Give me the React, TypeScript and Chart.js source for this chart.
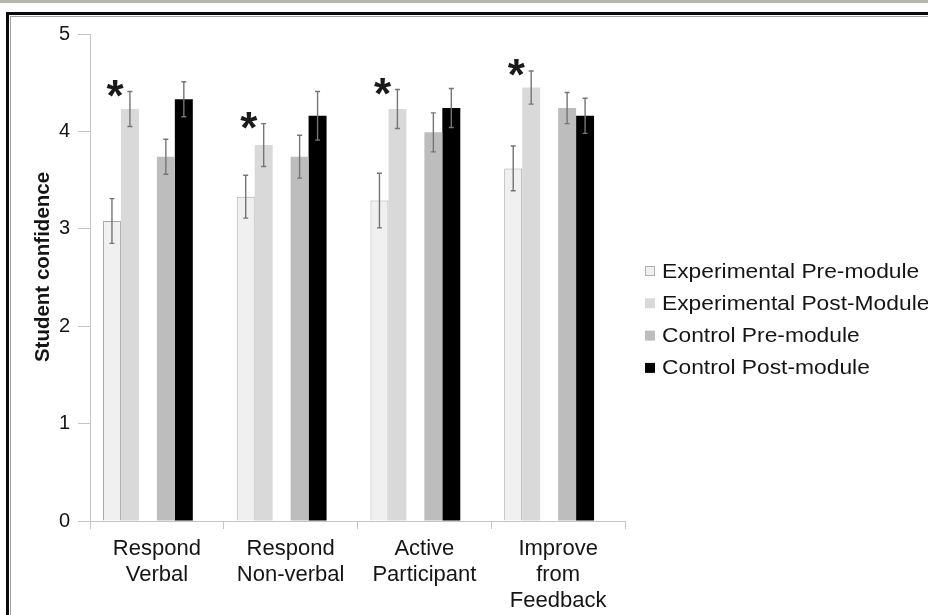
import React, { useEffect, useRef } from "react";
import { Chart, registerables } from "chart.js";

Chart.register(...registerables);

const categories = [
  ["Respond", "Verbal"],
  ["Respond", "Non-verbal"],
  ["Active", "Participant"],
  ["Improve", "from", "Feedback"],
];

const seriesLabels = [
  "Experimental Pre-module",
  "Experimental Post-Module",
  "Control Pre-module",
  "Control Post-module",
];

const yTitle = "Student confidence";

const expPre = [3.08, 3.33, 3.29, 3.62];
const expPreErr = [0.23, 0.22, 0.28, 0.23];
const expPost = [4.23, 3.86, 4.23, 4.45];
const expPostErr = [0.18, 0.22, 0.2, 0.17];
const ctrlPre = [3.74, 3.74, 3.99, 4.24];
const ctrlPreErr = [0.18, 0.22, 0.2, 0.16];
const ctrlPost = [4.33, 4.16, 4.24, 4.16];
const ctrlPostErr = [0.18, 0.25, 0.2, 0.18];
const significant = [true, true, true, true];

const yTicks = [0, 1, 2, 3, 4, 5];

const FONT = "'Liberation Sans', Arial, Helvetica, sans-serif";

const errorBarPlugin = {
  id: "errorBars",
  afterDatasetsDraw(chart: any) {
    const { ctx } = chart;
    const yScale = chart.scales.y;
    chart.data.datasets.forEach((ds: any, di: number) => {
      if (!ds.errors) return;
      const meta = chart.getDatasetMeta(di);
      meta.data.forEach((bar: any, i: number) => {
        const v = ds.data[i];
        const e = ds.errors[i];
        if (v == null || e == null) return;
        const x = bar.x;
        const yT = yScale.getPixelForValue(v + e);
        const yB = yScale.getPixelForValue(v - e);
        ctx.save();
        ctx.strokeStyle = "#757575";
        ctx.lineWidth = 1.4;
        ctx.beginPath();
        ctx.moveTo(x, yT);
        ctx.lineTo(x, yB);
        ctx.moveTo(x - 2.5, yT);
        ctx.lineTo(x + 2.5, yT);
        ctx.moveTo(x - 2.5, yB);
        ctx.lineTo(x + 2.5, yB);
        ctx.stroke();
        ctx.restore();
        if (ds.markSig && significant[i]) {
          ctx.save();
          ctx.fillStyle = "#1a1a1a";
          ctx.font = `bold 44px ${FONT}`;
          ctx.textAlign = "center";
          ctx.textBaseline = "middle";
          const w = bar.width;
          ctx.fillText("*", x - w / 2 - 6, yT - 3 + 10);
          ctx.restore();
        }
      });
    });
  },
};

const sidePlugin = {
  id: "sideLegend",
  afterDraw(chart: any) {
    const { ctx, chartArea } = chart;
    const items = chart.data.datasets.filter((d: any) => d.label);
    ctx.save();
    items.forEach((ds: any, i: number) => {
      const cy = chartArea.top + 237 + i * 32.3;
      const bx = chartArea.right + 20;
      ctx.fillStyle = ds.backgroundColor;
      ctx.fillRect(bx, cy - 5, 10, 10);
      if (ds.legendBorder) {
        ctx.strokeStyle = ds.legendBorder;
        ctx.lineWidth = 1;
        ctx.strokeRect(bx + 0.5, cy - 4.5, 9, 9);
      }
      ctx.fillStyle = "#151515";
      ctx.font = `20px ${FONT}`;
      ctx.textAlign = "left";
      ctx.textBaseline = "middle";
      ctx.save();
      ctx.translate(bx + 17, cy + 1);
      ctx.scale(1.14, 1);
      ctx.fillText(ds.label, 0, 0);
      ctx.restore();
    });
    // y axis title
    ctx.save();
    ctx.fillStyle = "#151515";
    ctx.font = `bold 20.5px ${FONT}`;
    ctx.textAlign = "center";
    ctx.textBaseline = "middle";
    ctx.translate(43, 267);
    ctx.rotate(-Math.PI / 2);
    ctx.fillText(yTitle, 0, 0);
    ctx.restore();
    ctx.restore();
  },
};

export default function App() {
  const ref = useRef<HTMLCanvasElement | null>(null);

  useEffect(() => {
    if (!ref.current) return;
    const chart = new Chart(ref.current, {
      type: "bar",
      data: {
        labels: categories,
        datasets: [
          {
            label: seriesLabels[0],
            data: expPre,
            errors: expPreErr,
            backgroundColor: "#f0f0f0",
            borderColor: "#a8a8a8",
            borderWidth: 1,
            legendBorder: "#b0b0b0",
          } as any,
          {
            label: seriesLabels[1],
            data: expPost,
            errors: expPostErr,
            markSig: true,
            backgroundColor: "#d9d9d9",
          } as any,
          { label: "", data: [null, null, null, null], backgroundColor: "transparent" } as any,
          {
            label: seriesLabels[2],
            data: ctrlPre,
            errors: ctrlPreErr,
            backgroundColor: "#bdbdbd",
          } as any,
          {
            label: seriesLabels[3],
            data: ctrlPost,
            errors: ctrlPostErr,
            backgroundColor: "#000000",
          } as any,
          { label: "", data: [null, null, null, null], backgroundColor: "transparent" } as any,
        ],
      },
      options: {
        animation: false,
        responsive: true,
        maintainAspectRatio: false,
        layout: { padding: { left: 0, right: 303, top: 34, bottom: 0 } },
        datasets: { bar: { categoryPercentage: 0.806, barPercentage: 1 } },
        plugins: { legend: { display: false }, tooltip: { enabled: false } },
        scales: {
          x: {
            grid: { drawOnChartArea: false, offset: true, tickLength: 8, color: "#c4c4c4" },
            border: { color: "#c4c4c4" },
            ticks: { color: "#151515", font: { family: FONT, size: 22, lineHeight: 1.18 }, padding: 7, maxRotation: 0 },
            afterFit: (s: any) => {
              s.height = 94;
            },
          },
          y: {
            min: 0,
            max: 5,
            afterBuildTicks: (s: any) => {
              s.ticks = yTicks.map((v) => ({ value: v }));
            },
            grid: { drawOnChartArea: false, tickLength: 12, color: "#c4c4c4" },
            border: { color: "#c4c4c4" },
            ticks: { color: "#151515", font: { family: FONT, size: 20 }, padding: 8 },
            afterFit: (s: any) => {
              s.width = 90;
            },
          },
        },
      },
      plugins: [errorBarPlugin, sidePlugin],
    } as any);
    return () => chart.destroy();
  }, []);

  return (
    <div style={{ position: "fixed", left: 0, top: 0, width: 928, height: 615, overflow: "hidden", background: "#ffffff" }}>
      <div style={{ position: "absolute", left: 0, top: 0, width: 928, height: 615 }}>
        <canvas ref={ref} />
      </div>
      <div style={{ position: "absolute", left: 0, top: 0, width: 928, height: 3, background: "#b6b6ae" }} />
      <div
        style={{
          position: "absolute",
          left: 6,
          top: 12,
          width: 1000,
          height: 1000,
          border: "3px solid #0a0a0a",
          pointerEvents: "none",
        }}
      >
        <div style={{ position: "absolute", left: 1, top: 1, width: 1000, height: 1000, border: "1px solid #a0a0a0" }} />
      </div>
    </div>
  );
}
